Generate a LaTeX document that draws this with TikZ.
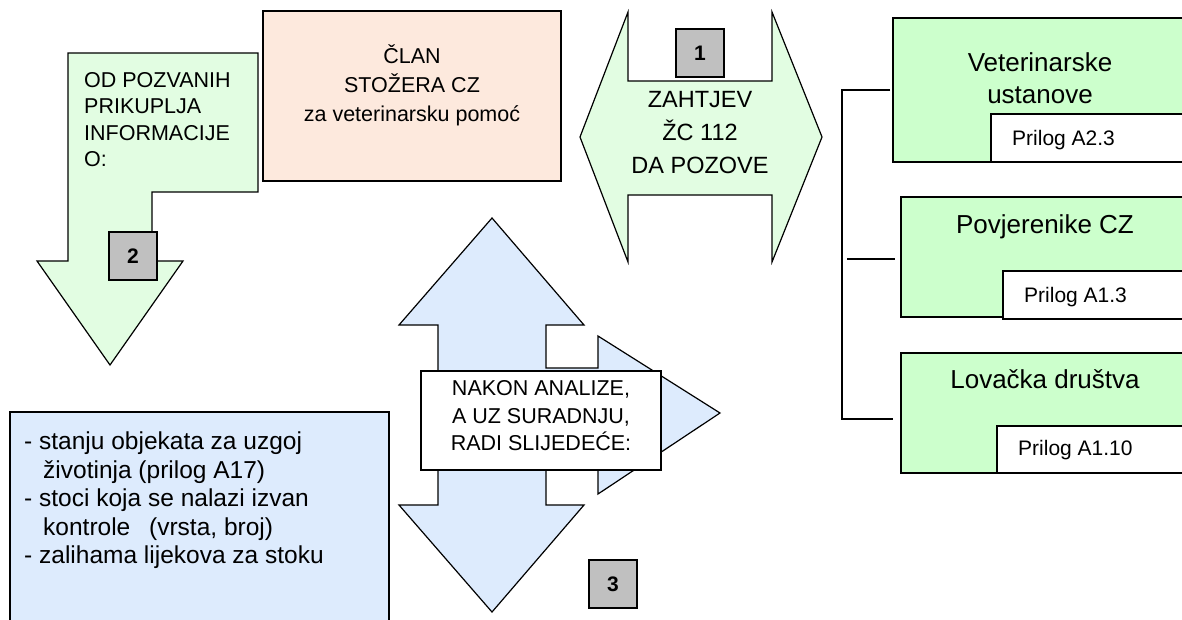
\documentclass[tikz,border=0pt]{standalone}
\usepackage{fontspec}
\setmainfont{Liberation Sans}
\definecolor{arrowgreen}{HTML}{E2FDE2}
\definecolor{boxgreen}{HTML}{CCFFCC}
\definecolor{boxpink}{HTML}{FDE9DD}
\definecolor{boxblue}{HTML}{DDEBFD}
\definecolor{badgegray}{HTML}{C0C0C0}
\begin{document}
\begin{tikzpicture}[x=1pt,y=-1pt,
  outline/.style={draw=black,line width=1.2pt,line join=miter},
  badge/.style={outline,fill=badgegray,minimum width=48pt,minimum height=48pt,
    inner sep=0pt,font=\fontsize{21}{25}\selectfont\bfseries},
  body/.style={inner sep=0pt,font=\fontsize{21.5}{29}\selectfont},
  title/.style={inner sep=0pt,font=\fontsize{26}{32}\selectfont},
  prilog/.style={inner sep=0pt,font=\fontsize{21}{25}\selectfont,anchor=base west},
  link/.style={draw=black,line width=1.2pt}]
\useasboundingbox (0,0) rectangle (1182,619);

% arrow 2: bent arrow pointing down
\path[outline,fill=arrowgreen] (68,53) -- (258,53) -- (258,192) -- (152,192)
  -- (152,261) -- (183,261) -- (110,365) -- (37,261) -- (68,261) -- cycle;
\node[body,align=left,anchor=north west,font=\fontsize{21.5}{26.5}\selectfont] (collect) at (84,72)
  {OD POZVANIH\\PRIKUPLJA\\INFORMACIJE\\O:};
\node[badge] (b2) at (133,256) {2};

% staff member box
\node[outline,fill=boxpink,minimum width=298pt,minimum height=170pt,inner sep=0pt] (member) at (412,96) {};
\node[body,align=center] (membertext) at (412,85)
  {ČLAN\\STOŽERA CZ\\za veterinarsku pomoć};

% arrow 1: left-right arrow
\path[outline,fill=arrowgreen] (580,137) -- (628,12) -- (628,81) -- (772,81)
  -- (772,12) -- (822,137) -- (772,262) -- (772,195) -- (628,195) -- (628,262) -- cycle;
\node[badge] (b1) at (700,53) {1};
\node[inner sep=0pt,align=center,font=\fontsize{23.5}{33}\selectfont] (request) at (700,133)
  {ZAHTJEV\\ŽC 112\\DA POZOVE};

% arrow 3: up-down-right arrow
\path[outline,fill=boxblue] (492,218) -- (584,325) -- (546,325) -- (546,368)
  -- (598,368) -- (598,336) -- (720,413) -- (598,494) -- (598,458) -- (546,458)
  -- (546,505) -- (584,505) -- (492,612) -- (399,505) -- (438,505) -- (438,325)
  -- (399,325) -- cycle;
\node[outline,fill=white,minimum width=240pt,minimum height=99pt,inner sep=0pt] (analysis) at (541,420.5) {};
\node[body,align=center,font=\fontsize{21.5}{27.5}\selectfont] (analysistext) at (541,416)
  {NAKON ANALIZE,\\A UZ SURADNJU,\\RADI SLIJEDEĆE:};
\node[badge] (b3) at (613,584) {3};

% information list
\path[outline,fill=boxblue] (10,630) -- (10,412) -- (389,412) -- (389,630);
\node[inner sep=0pt,align=left,anchor=north west,font=\fontsize{24.5}{28.5}\selectfont] (info) at (24,432)
  {- stanju objekata za uzgoj\\\hspace*{19pt}životinja (prilog A17)\\- stoci koja se nalazi izvan\\\hspace*{19pt}kontrole\hspace*{12pt} (vrsta, broj)\\- zalihama lijekova za stoku};

% called services
\path[outline,fill=boxgreen] (1195,18) -- (893,18) -- (893,162) -- (1195,162);
\path[outline,fill=white] (1195,114) -- (991,114) -- (991,162) -- (1195,162);
\node[title,align=center] (vet) at (1040,78) {Veterinarske\\ustanove};
\node[prilog] (pvet) at (1012,145) {Prilog A2.3};

\path[outline,fill=boxgreen] (1195,197) -- (901,197) -- (901,317) -- (1195,317);
\path[outline,fill=white] (1195,271) -- (1003,271) -- (1003,319) -- (1195,319);
\node[title,anchor=base] (pov) at (1045,233) {Povjerenike CZ};
\node[prilog] (ppov) at (1024,302) {Prilog A1.3};

\path[outline,fill=boxgreen] (1195,353) -- (901,353) -- (901,473) -- (1195,473);
\path[outline,fill=white] (1195,426) -- (997,426) -- (997,473) -- (1195,473);
\node[title,anchor=base] (lov) at (1045,388) {Lovačka društva};
\node[prilog] (plov) at (1018,455) {Prilog A1.10};

% bracket joining the three services
\coordinate (ktop) at (842,90);
\coordinate (kbot) at (842,419);
\coordinate (kvet) at (890,90);
\coordinate (kmidl) at (847,259);
\coordinate (kmid) at (895,259);
\coordinate (klov) at (893,419);
\draw[link] (kvet) -- (ktop) -- (kbot) -- (klov);
\draw[link] (kmidl) -- (kmid);
\end{tikzpicture}
\end{document}
